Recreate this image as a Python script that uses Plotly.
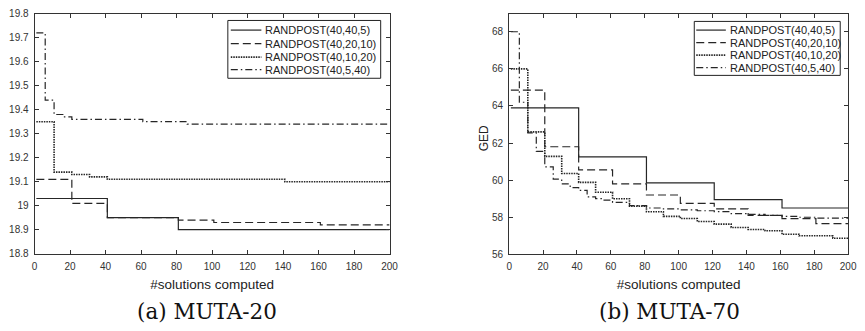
import plotly.graph_objects as go

names = ["RANDPOST(40,40,5)", "RANDPOST(40,20,10)", "RANDPOST(40,10,20)", "RANDPOST(40,5,40)"]

# MUTA-20 (left) step breakpoints
a_solid_x = [1, 41, 81, 200]
a_solid_y = [19.03, 18.95, 18.90, 18.90]
a_dash_x = [1, 21, 41, 81, 101, 161, 200]
a_dash_y = [19.11, 19.01, 18.95, 18.94, 18.93, 18.92, 18.92]
a_dot_x = [1, 11, 21, 31, 41, 141, 200]
a_dot_y = [19.35, 19.14, 19.13, 19.12, 19.11, 19.10, 19.10]
a_dd_x = [1, 6, 11, 16, 21, 61, 86, 200]
a_dd_y = [19.72, 19.44, 19.38, 19.37, 19.36, 19.35, 19.34, 19.34]

# MUTA-70 (right) step breakpoints
b_solid_x = [1, 41, 81, 121, 161, 200]
b_solid_y = [63.9, 61.25, 59.85, 58.95, 58.5, 58.5]
b_dash_x = [1, 21, 41, 61, 81, 101, 121, 141, 161, 181, 200]
b_dash_y = [64.85, 61.8, 60.55, 59.8, 59.2, 58.75, 58.45, 58.1, 57.93, 57.66, 57.66]
b_dot_x = [1, 11, 21, 31, 41, 51, 61, 71, 81, 91, 101, 111, 121, 131, 141, 151, 161, 171, 191, 200]
b_dot_y = [66.0, 62.6, 61.28, 60.36, 59.88, 59.35, 59.0, 58.6, 58.3, 58.05, 57.93, 57.77, 57.63, 57.45, 57.34, 57.27, 57.08, 57.0, 56.87, 56.87]
b_dd_x = [1, 6, 11, 16, 21, 26, 31, 36, 41, 46, 51, 56, 61, 71, 81, 91, 101, 111, 121, 131, 141, 151, 161, 171, 181, 200]
b_dd_y = [68.0, 64.2, 62.55, 61.55, 60.72, 60.05, 59.8, 59.6, 59.45, 59.1, 59.0, 58.92, 58.8, 58.63, 58.5, 58.45, 58.4, 58.35, 58.3, 58.2, 58.15, 58.1, 58.05, 58.0, 57.95, 57.97]

x_ticks = [0, 20, 40, 60, 80, 100, 120, 140, 160, 180, 200]
a_yticks = [18.8, 18.9, 19.0, 19.1, 19.2, 19.3, 19.4, 19.5, 19.6, 19.7, 19.8]
a_yticktext = ["18.8", "18.9", "19", "19.1", "19.2", "19.3", "19.4", "19.5", "19.6", "19.7", "19.8"]
b_yticks = [56, 58, 60, 62, 64, 66, 68]

dashes = ["solid", "8px,4px", "1.5px,1px", "7px,3px,1.5px,3px"]
widths = [1.2, 1.2, 1.6, 1.2]
line_col = "#262626"
SANS = "Liberation Sans"
SERIF = "DejaVu Serif"

fig = go.Figure()
left = [(a_solid_x, a_solid_y), (a_dash_x, a_dash_y), (a_dot_x, a_dot_y), (a_dd_x, a_dd_y)]
right = [(b_solid_x, b_solid_y), (b_dash_x, b_dash_y), (b_dot_x, b_dot_y), (b_dd_x, b_dd_y)]
for i, (xs, ys) in enumerate(left):
    fig.add_trace(go.Scatter(x=xs, y=ys, mode="lines", name=names[i], line_shape="hv",
                             line=dict(color=line_col, width=widths[i], dash=dashes[i]),
                             xaxis="x", yaxis="y", showlegend=False))
for i, (xs, ys) in enumerate(right):
    fig.add_trace(go.Scatter(x=xs, y=ys, mode="lines", name=names[i], line_shape="hv",
                             line=dict(color=line_col, width=widths[i], dash=dashes[i]),
                             xaxis="x2", yaxis="y2", showlegend=False))

W, H = 865, 331
tickfont = dict(family=SANS, size=10, color="#333")
axis_common = dict(showline=True, linecolor="#333", linewidth=1, mirror="ticks",
                   ticks="inside", ticklen=4, tickcolor="#333", tickwidth=1,
                   showgrid=False, zeroline=False, tickfont=tickfont, ticklabelstandoff=3)

# Manual legends (box + sample lines + labels), in paper pixels
shapes = []
annotations = []
legends = [
    dict(box=(228, 15, 383, 75), rows=[25, 39, 53, 66], sx=(231, 262), tx=264),
    dict(box=(701, 16, 849, 72), rows=[25, 38, 51, 64], sx=(703, 733), tx=735),
]
for lg in legends:
    x0, y0, x1, y1 = lg["box"]
    shapes.append(dict(type="rect", xref="paper", yref="paper",
                       x0=x0 / W, x1=x1 / W, y0=1 - y1 / H, y1=1 - y0 / H,
                       line=dict(color="#222", width=1), fillcolor="white", layer="above"))
    for i, ry in enumerate(lg["rows"]):
        shapes.append(dict(type="line", xref="paper", yref="paper",
                           x0=lg["sx"][0] / W, x1=lg["sx"][1] / W, y0=1 - ry / H, y1=1 - ry / H,
                           line=dict(color=line_col, width=widths[i], dash=dashes[i]), layer="above"))
        annotations.append(dict(text=names[i], x=lg["tx"] / W, y=1 - ry / H, xref="paper", yref="paper",
                                xanchor="left", yanchor="middle", showarrow=False,
                                font=dict(family=SANS, size=11, color="#222")))

annotations += [
    dict(text="(a) MUTA-20", x=207 / W, y=1 - 317 / H, xref="paper", yref="paper",
         xanchor="center", yanchor="middle", showarrow=False,
         font=dict(family=SERIF, size=21.5, color="#111")),
    dict(text="(b) MUTA-70", x=676 / W, y=1 - 317 / H, xref="paper", yref="paper",
         xanchor="center", yanchor="middle", showarrow=False,
         font=dict(family=SERIF, size=21.5, color="#111")),
    dict(text="GED", x=488 / W, y=1 - 137 / H, xref="paper", yref="paper",
         xanchor="center", yanchor="middle", showarrow=False, textangle=-90,
         font=dict(family=SANS, size=12, color="#222")),
]

fig.update_layout(
    width=W, height=H,
    margin=dict(l=0, r=0, t=0, b=0),
    paper_bgcolor="white", plot_bgcolor="white",
    font=dict(family=SANS, color="#333"),
    showlegend=False,
    xaxis=dict(domain=[32 / W, 392 / W], range=[0, 200], tickvals=x_ticks, anchor="y",
               title=dict(text="#solutions computed", font=dict(family=SANS, size=13.5, color="#222"), standoff=8),
               **axis_common),
    yaxis=dict(domain=[1 - 257 / H, 1 - 8 / H], range=[18.8, 19.8], tickvals=a_yticks,
               ticktext=a_yticktext, anchor="x", **axis_common),
    xaxis2=dict(domain=[513.3 / W, 857 / W], range=[0, 200], tickvals=x_ticks, anchor="y2",
                title=dict(text="#solutions computed", font=dict(family=SANS, size=13.5, color="#222"), standoff=8),
                **axis_common),
    yaxis2=dict(domain=[1 - 257.7 / H, 1 - 8 / H], range=[56, 68 + 18.7 / 19.25], tickvals=b_yticks,
                anchor="x2", **axis_common),
    shapes=shapes,
    annotations=annotations,
)

fig.write_html("out.html", config={"displayModeBar": False},
               post_script="document.body.style.margin='0';document.body.style.overflow='hidden';")
